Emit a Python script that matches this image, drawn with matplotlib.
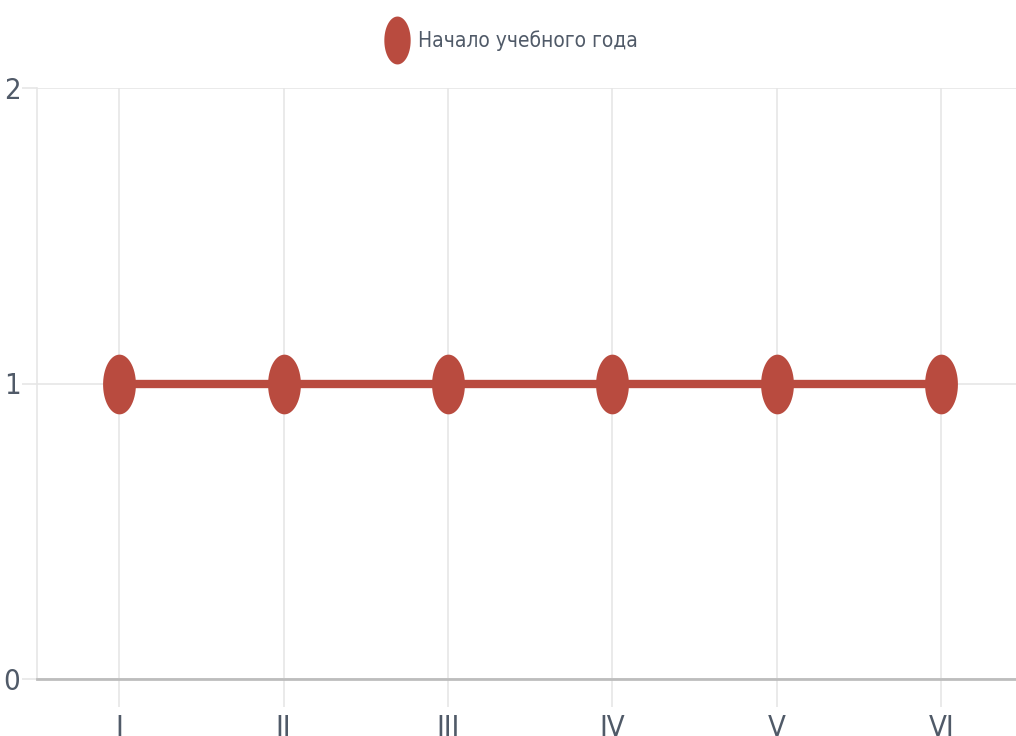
import matplotlib
matplotlib.use("Agg")
import matplotlib.pyplot as plt
from matplotlib import font_manager as fm
from matplotlib.lines import Line2D
from matplotlib.path import Path
import numpy as np

categories = ["I", "II", "III", "IV", "V", "VI"]
values = [1, 1, 1, 1, 1, 1]
series_name = "Начало учебного года"
y_ticks = [0, 1, 2]

color = "#b94b3f"
text_color = "#505a68"

# the reference is horizontally squeezed, so prefer a narrow face if one exists
narrow = None
for f in fm.fontManager.ttflist:
    if "Narrow" in f.name or f.stretch in ("condensed", "semi-condensed", "extra-condensed"):
        narrow = f
        break
if narrow is not None:
    text_font = dict(family=[narrow.name, "DejaVu Sans"], stretch=narrow.stretch)
    tick_size, legend_size = 21, 15
else:
    text_font = dict(family=["Liberation Sans", "DejaVu Sans"], stretch="normal")
    tick_size, legend_size = 20, 13
plt.rcParams["font.family"] = text_font["family"]
plt.rcParams["font.stretch"] = text_font["stretch"]

# stretched chart: points are drawn as tall ellipses
t = np.linspace(0, 2 * np.pi, 60)
ellipse = Path(np.column_stack([0.55 * np.cos(t), np.sin(t)]), closed=True)

fig = plt.figure(figsize=(10.16, 7.36), dpi=100)
ax = fig.add_axes([37 / 1016, 1 - 679 / 736, 986.4 / 1016, (679 - 88) / 736])

x = np.arange(len(categories))
ax.plot(x, values, color=color, linewidth=6, marker=ellipse, markersize=43,
        markeredgewidth=0, solid_capstyle="butt", zorder=3)

ax.set_xlim(-0.5, len(categories) - 0.5)
ax.set_ylim(0, 2)
ax.set_xticks(x)
ax.set_xticklabels(categories)
ax.set_yticks(y_ticks)

ax.grid(True, color="#e6e6e6", linewidth=1.2)
ax.set_axisbelow(True)
for s in ["top", "right"]:
    ax.spines[s].set_visible(False)
ax.spines["left"].set_color("#e6e6e6")
ax.spines["left"].set_linewidth(1.2)
ax.spines["bottom"].set_color("#bdbdbd")
ax.spines["bottom"].set_linewidth(2)

ax.tick_params(axis="x", length=20, width=1.2, color="#e6e6e6", pad=5,
               labelsize=tick_size, labelcolor=text_color)
ax.tick_params(axis="y", length=11, width=1.2, color="#e6e6e6", pad=1,
               labelsize=tick_size, labelcolor=text_color)

handle = Line2D([], [], color=color, marker=ellipse, linestyle="none",
                markersize=34.5, markeredgewidth=0)
fig.legend([handle], [series_name], loc="center", bbox_to_anchor=(512 / 1016, 1 - 41 / 736),
           frameon=False, fontsize=legend_size, labelcolor=text_color, handletextpad=0.5,
           handlelength=1.0, borderpad=0)

fig.savefig("out.png", dpi=100)
